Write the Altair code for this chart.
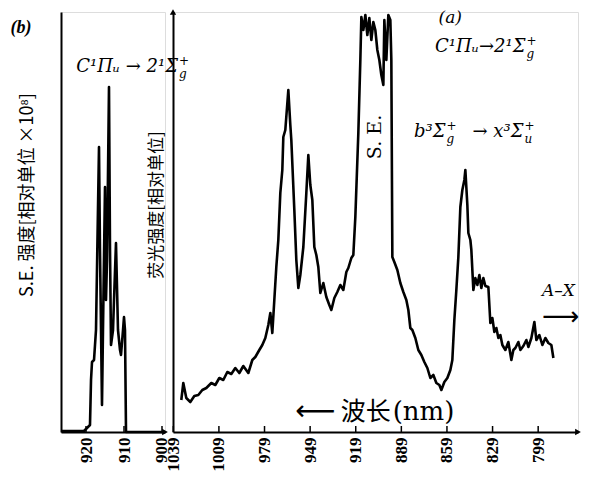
import altair as alt
import pandas as pd

# ---------------- panel (b): S.E. emission ----------------
b_wavelength = [926.58, 920.53, 919.74, 918.95, 918.68, 918.42, 917.89, 917.37, 916.58, 916.32,
                915.79, 915.53, 915.00, 914.74, 914.47, 913.95, 913.68, 913.42, 912.89, 912.63,
                912.11, 911.58, 911.05, 910.79, 910.26, 910.00, 909.74, 909.47, 899.21]
b_intensity = [1, 1, 4, 7, 52, 70, 72, 102, 285, 182,
               27, 102, 245, 132, 172, 345, 182, 87, 102, 132,
               189, 102, 82, 77, 102, 115, 102, 0, 0]
b_ticks = [920, 910, 900]

# ---------------- panel (a): fluorescence ----------------
a_wavelength = [1033.74, 1032.42, 1030.45, 1027.82, 1025.18, 1022.55, 1019.92, 1017.29, 1014.00, 1011.37,
                1008.74, 1006.11, 1003.47, 1000.84, 998.21, 995.58, 992.95, 989.66, 987.03, 985.05,
                982.42, 980.45, 978.47, 976.50, 975.18, 973.87, 972.55, 971.24, 969.92, 968.61,
                967.29, 966.63, 965.32, 963.34, 962.03, 961.37, 959.39, 958.08, 956.76, 955.45,
                953.47, 951.50, 950.18, 948.87, 947.55, 946.24, 944.92, 943.61, 942.29, 940.32,
                938.34, 936.37, 935.05, 933.08, 931.11, 929.13, 927.16, 925.18, 923.87, 921.89,
                920.58, 919.26, 917.29, 915.97, 915.30, 913.99, 912.67, 911.37, 910.05, 908.73,
                907.42, 906.11, 904.79, 903.47, 902.16, 900.84, 900.18, 898.87, 897.55, 896.24,
                895.58, 894.92, 893.61, 891.63, 889.66, 887.68, 885.71, 884.39, 883.08, 881.76,
                879.79, 877.82, 875.84, 873.87, 871.89, 869.92, 867.95, 865.97, 864.00, 862.68,
                860.71, 858.74, 856.76, 855.45, 854.13, 852.82, 851.50, 850.18, 848.87, 847.55,
                846.89, 845.58, 844.92, 843.60, 842.95, 841.63, 840.32, 839.00, 837.68, 836.37,
                835.05, 833.74, 831.76, 830.45, 829.13, 827.82, 826.50, 825.18, 823.87, 822.55,
                820.58, 818.61, 816.63, 815.32, 814.00, 812.03, 810.71, 808.74, 806.76, 805.45,
                803.47, 801.50, 800.18, 798.21, 796.24, 794.26, 792.29, 790.32, 789.00]
a_intensity = [32, 49, 34, 30, 36, 37, 42, 44, 49, 47,
               54, 52, 60, 58, 64, 59, 66, 59, 72, 75,
               82, 87, 94, 107, 119, 99, 132, 165, 192, 239,
               262, 295, 302, 342, 307, 292, 222, 172, 144, 157,
               185, 239, 277, 247, 232, 185, 177, 165, 139, 149,
               135, 127, 122, 134, 140, 147, 142, 160, 164, 174,
               177, 215, 299, 372, 415, 402, 417, 397, 414, 392,
               410, 402, 382, 372, 357, 347, 412, 372, 417, 412,
               372, 175, 170, 162, 149, 140, 132, 122, 104, 102,
               94, 82, 77, 70, 64, 54, 57, 49, 47, 42,
               50, 54, 62, 72, 112, 142, 175, 225, 242, 252,
               262, 227, 199, 192, 182, 142, 154, 147, 157, 144,
               154, 146, 145, 109, 114, 100, 104, 94, 97, 87,
               82, 90, 72, 82, 84, 90, 82, 86, 92, 85,
               94, 110, 92, 97, 87, 94, 89, 87, 74]
a_ticks = [1039, 1009, 979, 949, 919, 889, 859, 829, 799]

B_DOMAIN = [899.21, 926.58]
A_DOMAIN = [772.8, 1039.2]
Y_DOMAIN = [0, 420]
H = 420

SERIF = "Liberation Serif"
DSERIF = "DejaVu Serif"
CJK = "Noto Sans CJK SC"
INK = "#000000"


def scales(domain):
    xs = alt.Scale(domain=domain, reverse=True, nice=False, zero=False)
    ys = alt.Scale(domain=Y_DOMAIN, nice=False, zero=False)
    return xs, ys


def text_layer(xs, ys, wl, inten, text, **kw):
    d = pd.DataFrame({"wl": [wl], "I": [inten], "t": [text]})
    return alt.Chart(d).mark_text(color=INK, **kw).encode(
        x=alt.X("wl:Q", scale=xs), y=alt.Y("I:Q", scale=ys), text="t:N")


def term(xs, ys, wl, inten, main, sup, sub, size=18):
    return [
        text_layer(xs, ys, wl, inten, main, align="right", baseline="middle",
                   font=DSERIF, fontStyle="italic", fontSize=size),
        text_layer(xs, ys, wl, inten, sup, align="left", baseline="middle",
                   font=DSERIF, fontSize=size - 6, dx=1, dy=-6),
        text_layer(xs, ys, wl, inten, sub, align="left", baseline="middle",
                   font=DSERIF, fontStyle="italic", fontSize=size - 6, dx=1, dy=7),
    ]


def base_panel(wl, inten, ticks, domain):
    xs, ys = scales(domain)
    df = pd.DataFrame({"wl": wl, "I": inten, "i": list(range(len(wl)))})
    line = alt.Chart(df).mark_line(color=INK, strokeWidth=2.6, strokeJoin="round").encode(
        x=alt.X("wl:Q", scale=xs, axis=alt.Axis(
            values=ticks, format="d", labelAngle=-90, labelFont=SERIF, labelFontSize=17,
            labelFontWeight="bold", labelColor=INK, ticks=False, domainColor=INK,
            domainWidth=2, labelPadding=5, title=None, grid=False,
            labelOverlap=False, labelFlush=False)),
        y=alt.Y("I:Q", scale=ys, axis=alt.Axis(
            labels=False, ticks=False, domainColor=INK, domainWidth=2,
            title=None, grid=False)),
        order="i:O")
    tk = pd.DataFrame({"t": ticks, "y0": [0] * len(ticks), "y1": [6] * len(ticks)})
    tick_rules = alt.Chart(tk).mark_rule(color=INK, strokeWidth=1.5).encode(
        x=alt.X("t:Q", scale=xs), y=alt.Y("y0:Q", scale=ys), y2="y1:Q")
    arr = pd.DataFrame({"wl": [domain[0]], "I": [0]})
    arrow = alt.Chart(arr).mark_point(shape="triangle-right", filled=True, size=45,
                                      color=INK, opacity=1).encode(
        x=alt.X("wl:Q", scale=xs), y=alt.Y("I:Q", scale=ys))
    return xs, ys, [line, tick_rules, arrow]


# ---- left panel (b)
xs_b, ys_b, layers_b = base_panel(b_wavelength, b_intensity, b_ticks, B_DOMAIN)
layers_b += [
    text_layer(xs_b, ys_b, 937.1, 404, "(b)", font=SERIF, fontWeight="bold",
               fontStyle="italic", fontSize=18, align="center", baseline="middle"),
    text_layer(xs_b, ys_b, 935.26, 237, "S.E. 强度[相对单位 ×10⁸]", font=CJK,
               fontSize=18, angle=270, align="center", baseline="middle"),
    text_layer(xs_b, ys_b, 901.4, 227, "荧光强度[相对单位]", font=CJK,
               fontSize=17, angle=270, align="center", baseline="middle"),
]
layers_b += term(xs_b, ys_b, 895.8, 365, "C¹Πᵤ → 2¹Σ", "+", "g", 18)
left = alt.layer(*layers_b).properties(width=104, height=H)

# ---- right panel (a)
xs_a, ys_a, layers_a = base_panel(a_wavelength, a_intensity, a_ticks, A_DOMAIN)
top = pd.DataFrame({"wl": [A_DOMAIN[1]], "I": [Y_DOMAIN[1]]})
layers_a.append(alt.Chart(top).mark_point(shape="triangle-up", filled=True, size=40,
                                          color=INK, opacity=1).encode(
    x=alt.X("wl:Q", scale=xs_a), y=alt.Y("I:Q", scale=ys_a)))
layers_a += [
    text_layer(xs_a, ys_a, 856.8, 414, "(a)", font=DSERIF, fontStyle="italic",
               fontSize=17, align="center", baseline="middle"),
    text_layer(xs_a, ys_a, 906.1, 295, "S. E.", font=DSERIF, fontSize=19,
               angle=270, align="center", baseline="middle"),
    text_layer(xs_a, ys_a, 796.5, 141, "A–X", font=DSERIF, fontStyle="italic",
               fontSize=17, align="left", baseline="middle"),
    text_layer(xs_a, ys_a, 796.5, 115, "⟶", font="DejaVu Sans", fontSize=26,
               align="left", baseline="middle"),
    text_layer(xs_a, ys_a, 932.2, 20, "⟵", font="DejaVu Sans", fontSize=28,
               align="right", baseline="middle"),
    text_layer(xs_a, ys_a, 928.9, 20, "波长", font=CJK, fontSize=25,
               align="left", baseline="middle"),
    text_layer(xs_a, ys_a, 894.7, 20, "(nm)", font=DSERIF, fontSize=26,
               align="left", baseline="middle"),
]
layers_a += term(xs_a, ys_a, 807.4, 385, "C¹Πᵤ→2¹Σ", "+", "g", 18)
layers_a += term(xs_a, ys_a, 860.0, 300, "b³Σ", "+", "g", 18)
layers_a += term(xs_a, ys_a, 808.7, 300, "→ x³Σ", "+", "u", 18)
right = alt.layer(*layers_a).properties(width=405, height=H)

chart = alt.hconcat(left, right, spacing=8, bounds="flush").properties(
    padding={"left": 2, "top": 0, "right": 0, "bottom": 0}
).configure_view(stroke=None).configure(background="white")

chart.save("out.html", embed_options={"renderer": "svg", "actions": False})
